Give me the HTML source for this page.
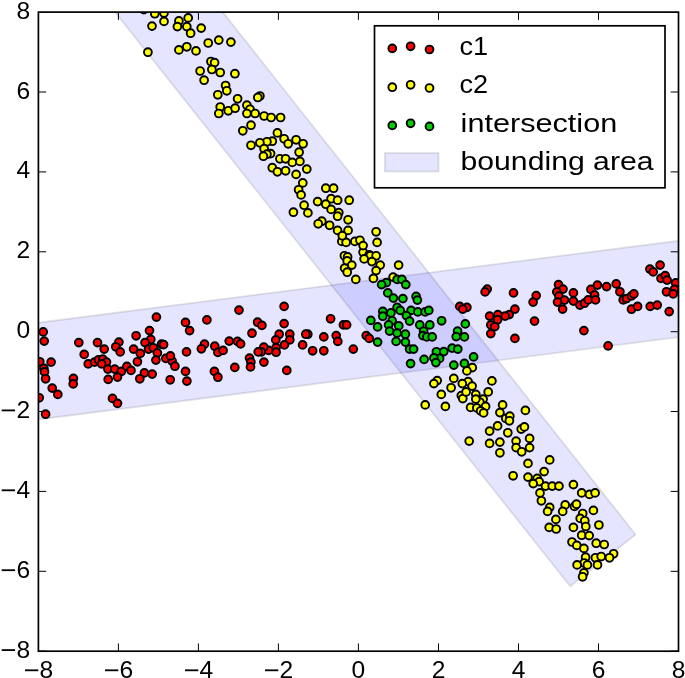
<!DOCTYPE html>
<html><head><meta charset="utf-8"><title>plot</title>
<style>
html,body{margin:0;padding:0;background:#fff;}
body{width:685px;height:678px;overflow:hidden;position:relative;font-family:"Liberation Sans",sans-serif;}
svg{position:absolute;left:0;top:0;display:block;filter:blur(0.55px);}
text{font-family:"Liberation Sans",sans-serif;fill:#000;}
.tk{font-size:24.6px;}
.lg{font-size:25.5px;}
</style></head><body>
<svg width="685" height="678" viewBox="0 0 685 678">
<defs><clipPath id="ax"><rect x="38.4" y="12.1" width="640.1" height="639.1"/></clipPath></defs>
<rect x="0" y="0" width="685" height="678" fill="#fff"/>
<g clip-path="url(#ax)">
<polygon points="-1.5,327.8 718.4,235.7 718.4,332.0 -1.5,424.6" fill="rgba(0,0,255,0.1)" stroke="rgba(0,0,0,0.11)" stroke-width="1.8"/>
<polygon points="69.9,-44.9 570.2,586.3 635.5,534.5 181.8,-39.7" fill="rgba(0,0,255,0.1)" stroke="rgba(0,0,0,0.11)" stroke-width="1.8"/>
<g stroke="#000" stroke-width="1">
<line x1="38.4" y1="651.2" x2="38.4" y2="643.4000000000001"/><line x1="38.4" y1="12.1" x2="38.4" y2="19.9"/><line x1="38.4" y1="651.2" x2="46.199999999999996" y2="651.2"/><line x1="678.5" y1="651.2" x2="670.7" y2="651.2"/>
<line x1="118.4" y1="651.2" x2="118.4" y2="643.4000000000001"/><line x1="118.4" y1="12.1" x2="118.4" y2="19.9"/><line x1="38.4" y1="571.3" x2="46.199999999999996" y2="571.3"/><line x1="678.5" y1="571.3" x2="670.7" y2="571.3"/>
<line x1="198.4" y1="651.2" x2="198.4" y2="643.4000000000001"/><line x1="198.4" y1="12.1" x2="198.4" y2="19.9"/><line x1="38.4" y1="491.4" x2="46.199999999999996" y2="491.4"/><line x1="678.5" y1="491.4" x2="670.7" y2="491.4"/>
<line x1="278.4" y1="651.2" x2="278.4" y2="643.4000000000001"/><line x1="278.4" y1="12.1" x2="278.4" y2="19.9"/><line x1="38.4" y1="411.5" x2="46.199999999999996" y2="411.5"/><line x1="678.5" y1="411.5" x2="670.7" y2="411.5"/>
<line x1="358.4" y1="651.2" x2="358.4" y2="643.4000000000001"/><line x1="358.4" y1="12.1" x2="358.4" y2="19.9"/><line x1="38.4" y1="331.7" x2="46.199999999999996" y2="331.7"/><line x1="678.5" y1="331.7" x2="670.7" y2="331.7"/>
<line x1="438.5" y1="651.2" x2="438.5" y2="643.4000000000001"/><line x1="438.5" y1="12.1" x2="438.5" y2="19.9"/><line x1="38.4" y1="251.8" x2="46.199999999999996" y2="251.8"/><line x1="678.5" y1="251.8" x2="670.7" y2="251.8"/>
<line x1="518.5" y1="651.2" x2="518.5" y2="643.4000000000001"/><line x1="518.5" y1="12.1" x2="518.5" y2="19.9"/><line x1="38.4" y1="171.9" x2="46.199999999999996" y2="171.9"/><line x1="678.5" y1="171.9" x2="670.7" y2="171.9"/>
<line x1="598.5" y1="651.2" x2="598.5" y2="643.4000000000001"/><line x1="598.5" y1="12.1" x2="598.5" y2="19.9"/><line x1="38.4" y1="92.0" x2="46.199999999999996" y2="92.0"/><line x1="678.5" y1="92.0" x2="670.7" y2="92.0"/>
<line x1="678.5" y1="651.2" x2="678.5" y2="643.4000000000001"/><line x1="678.5" y1="12.1" x2="678.5" y2="19.9"/><line x1="38.4" y1="12.1" x2="46.199999999999996" y2="12.1"/><line x1="678.5" y1="12.1" x2="670.7" y2="12.1"/>
</g>
<g fill="#ff0000" stroke="#000" stroke-width="1.9">
<circle cx="43.2" cy="331.9" r="3.9"/><circle cx="44.2" cy="341.1" r="3.9"/><circle cx="39.8" cy="361.8" r="3.9"/><circle cx="51.1" cy="362.1" r="3.9"/><circle cx="43.9" cy="368.4" r="3.9"/><circle cx="44.5" cy="371.9" r="3.9"/><circle cx="45.6" cy="378.8" r="3.9"/><circle cx="52.2" cy="388.1" r="3.9"/><circle cx="57.8" cy="394.4" r="3.9"/><circle cx="39.2" cy="397.8" r="3.9"/><circle cx="45.6" cy="414.2" r="3.9"/><circle cx="78.8" cy="342.6" r="3.9"/><circle cx="84.2" cy="354.4" r="3.9"/><circle cx="88.2" cy="363.9" r="3.9"/><circle cx="73.4" cy="378.4" r="3.9"/><circle cx="73.2" cy="383.9" r="3.9"/><circle cx="97.5" cy="342.6" r="3.9"/><circle cx="104.2" cy="349.1" r="3.9"/><circle cx="94.5" cy="362.1" r="3.9"/><circle cx="98.5" cy="359.8" r="3.9"/><circle cx="102.8" cy="359.1" r="3.9"/><circle cx="106.5" cy="362.1" r="3.9"/><circle cx="101.7" cy="363.9" r="3.9"/><circle cx="107.9" cy="369.1" r="3.9"/><circle cx="114.7" cy="369.1" r="3.9"/><circle cx="121.4" cy="371.4" r="3.9"/><circle cx="108.2" cy="379.4" r="3.9"/><circle cx="117.5" cy="377.1" r="3.9"/><circle cx="112.5" cy="398.4" r="3.9"/><circle cx="117.5" cy="403.4" r="3.9"/><circle cx="118.9" cy="342.1" r="3.9"/><circle cx="115.8" cy="346.8" r="3.9"/><circle cx="120.2" cy="351.9" r="3.9"/><circle cx="126.9" cy="366.4" r="3.9"/><circle cx="131.0" cy="370.4" r="3.9"/><circle cx="136.1" cy="335.8" r="3.9"/><circle cx="133.6" cy="349.1" r="3.9"/><circle cx="140.3" cy="353.4" r="3.9"/><circle cx="137.4" cy="361.8" r="3.9"/><circle cx="144.4" cy="372.9" r="3.9"/><circle cx="139.8" cy="378.8" r="3.9"/><circle cx="152.2" cy="374.1" r="3.9"/><circle cx="149.5" cy="330.6" r="3.9"/><circle cx="156.4" cy="317.1" r="3.9"/><circle cx="150.8" cy="339.4" r="3.9"/><circle cx="145.0" cy="342.6" r="3.9"/><circle cx="148.5" cy="349.1" r="3.9"/><circle cx="153.3" cy="347.8" r="3.9"/><circle cx="161.5" cy="344.1" r="3.9"/><circle cx="163.6" cy="344.6" r="3.9"/><circle cx="157.4" cy="352.9" r="3.9"/><circle cx="155.9" cy="360.1" r="3.9"/><circle cx="165.8" cy="358.4" r="3.9"/><circle cx="170.2" cy="379.8" r="3.9"/><circle cx="172.1" cy="361.1" r="3.9"/><circle cx="185.5" cy="322.4" r="3.9"/><circle cx="189.6" cy="330.6" r="3.9"/><circle cx="206.9" cy="319.9" r="3.9"/><circle cx="239.0" cy="310.1" r="3.9"/><circle cx="284.1" cy="306.4" r="3.9"/><circle cx="257.6" cy="322.2" r="3.9"/><circle cx="261.9" cy="325.4" r="3.9"/><circle cx="284.1" cy="323.6" r="3.9"/><circle cx="252.0" cy="333.2" r="3.9"/><circle cx="279.2" cy="334.2" r="3.9"/><circle cx="289.8" cy="334.2" r="3.9"/><circle cx="289.8" cy="339.9" r="3.9"/><circle cx="275.8" cy="339.9" r="3.9"/><circle cx="307.8" cy="334.2" r="3.9"/><circle cx="305.8" cy="334.2" r="3.9"/><circle cx="302.6" cy="344.9" r="3.9"/><circle cx="284.4" cy="344.9" r="3.9"/><circle cx="276.1" cy="347.6" r="3.9"/><circle cx="276.1" cy="352.2" r="3.9"/><circle cx="268.6" cy="350.4" r="3.9"/><circle cx="263.8" cy="347.1" r="3.9"/><circle cx="261.3" cy="351.9" r="3.9"/><circle cx="258.2" cy="351.9" r="3.9"/><circle cx="229.2" cy="341.1" r="3.9"/><circle cx="237.5" cy="341.4" r="3.9"/><circle cx="240.6" cy="343.9" r="3.9"/><circle cx="204.5" cy="344.1" r="3.9"/><circle cx="201.4" cy="348.8" r="3.9"/><circle cx="214.8" cy="346.2" r="3.9"/><circle cx="217.9" cy="352.4" r="3.9"/><circle cx="223.1" cy="350.4" r="3.9"/><circle cx="186.5" cy="351.9" r="3.9"/><circle cx="170.4" cy="355.9" r="3.9"/><circle cx="174.9" cy="366.2" r="3.9"/><circle cx="185.5" cy="371.4" r="3.9"/><circle cx="186.9" cy="381.1" r="3.9"/><circle cx="214.4" cy="371.4" r="3.9"/><circle cx="217.9" cy="377.2" r="3.9"/><circle cx="234.8" cy="367.4" r="3.9"/><circle cx="249.5" cy="358.1" r="3.9"/><circle cx="250.9" cy="362.1" r="3.9"/><circle cx="250.5" cy="366.9" r="3.9"/><circle cx="263.9" cy="362.1" r="3.9"/><circle cx="286.8" cy="370.4" r="3.9"/><circle cx="312.6" cy="350.8" r="3.9"/><circle cx="330.6" cy="318.8" r="3.9"/><circle cx="343.4" cy="324.9" r="3.9"/><circle cx="346.6" cy="324.9" r="3.9"/><circle cx="323.8" cy="336.9" r="3.9"/><circle cx="336.2" cy="335.6" r="3.9"/><circle cx="337.8" cy="341.4" r="3.9"/><circle cx="323.8" cy="350.8" r="3.9"/><circle cx="353.3" cy="349.1" r="3.9"/><circle cx="366.2" cy="335.6" r="3.9"/><circle cx="369.2" cy="338.4" r="3.9"/><circle cx="487.2" cy="289.1" r="3.9"/><circle cx="485.1" cy="291.9" r="3.9"/><circle cx="513.5" cy="292.9" r="3.9"/><circle cx="536.2" cy="295.6" r="3.9"/><circle cx="533.1" cy="302.1" r="3.9"/><circle cx="459.8" cy="306.4" r="3.9"/><circle cx="466.9" cy="307.4" r="3.9"/><circle cx="462.8" cy="309.1" r="3.9"/><circle cx="514.9" cy="309.1" r="3.9"/><circle cx="509.2" cy="314.6" r="3.9"/><circle cx="505.1" cy="316.1" r="3.9"/><circle cx="497.9" cy="314.6" r="3.9"/><circle cx="489.6" cy="316.1" r="3.9"/><circle cx="497.6" cy="319.8" r="3.9"/><circle cx="490.8" cy="324.9" r="3.9"/><circle cx="494.8" cy="326.6" r="3.9"/><circle cx="490.8" cy="333.6" r="3.9"/><circle cx="514.9" cy="338.4" r="3.9"/><circle cx="534.5" cy="321.1" r="3.9"/><circle cx="558.5" cy="284.6" r="3.9"/><circle cx="563.0" cy="289.1" r="3.9"/><circle cx="556.8" cy="291.9" r="3.9"/><circle cx="558.9" cy="296.1" r="3.9"/><circle cx="564.5" cy="300.1" r="3.9"/><circle cx="557.5" cy="302.1" r="3.9"/><circle cx="562.6" cy="309.1" r="3.9"/><circle cx="573.4" cy="292.9" r="3.9"/><circle cx="573.4" cy="301.1" r="3.9"/><circle cx="579.9" cy="305.1" r="3.9"/><circle cx="584.5" cy="303.2" r="3.9"/><circle cx="588.2" cy="299.9" r="3.9"/><circle cx="590.9" cy="289.4" r="3.9"/><circle cx="583.9" cy="330.6" r="3.9"/><circle cx="594.6" cy="294.9" r="3.9"/><circle cx="595.5" cy="299.9" r="3.9"/><circle cx="597.4" cy="285.1" r="3.9"/><circle cx="606.6" cy="286.6" r="3.9"/><circle cx="616.2" cy="283.9" r="3.9"/><circle cx="619.9" cy="291.8" r="3.9"/><circle cx="623.2" cy="299.9" r="3.9"/><circle cx="626.5" cy="298.6" r="3.9"/><circle cx="631.5" cy="295.9" r="3.9"/><circle cx="633.9" cy="293.9" r="3.9"/><circle cx="631.5" cy="309.2" r="3.9"/><circle cx="637.6" cy="306.4" r="3.9"/><circle cx="650.2" cy="306.4" r="3.9"/><circle cx="657.2" cy="305.1" r="3.9"/><circle cx="669.2" cy="311.6" r="3.9"/><circle cx="649.9" cy="269.1" r="3.9"/><circle cx="653.2" cy="271.9" r="3.9"/><circle cx="660.1" cy="265.1" r="3.9"/><circle cx="661.0" cy="278.4" r="3.9"/><circle cx="665.2" cy="275.6" r="3.9"/><circle cx="667.1" cy="280.1" r="3.9"/><circle cx="666.5" cy="291.8" r="3.9"/><circle cx="675.7" cy="282.9" r="3.9"/><circle cx="674.4" cy="289.4" r="3.9"/><circle cx="673.2" cy="293.9" r="3.9"/><circle cx="608.1" cy="345.9" r="3.9"/>
</g>
<g fill="#ffff00" stroke="#000" stroke-width="1.9">
<circle cx="341.8" cy="241.4" r="3.9"/><circle cx="346.1" cy="242.4" r="3.9"/><circle cx="354.8" cy="241.4" r="3.9"/><circle cx="359.9" cy="240.3" r="3.9"/><circle cx="377.1" cy="242.4" r="3.9"/><circle cx="363.1" cy="252.3" r="3.9"/><circle cx="369.2" cy="254.8" r="3.9"/><circle cx="370.3" cy="255.8" r="3.9"/><circle cx="376.1" cy="255.8" r="3.9"/><circle cx="344.4" cy="255.8" r="3.9"/><circle cx="347.6" cy="256.9" r="3.9"/><circle cx="364.1" cy="258.9" r="3.9"/><circle cx="371.9" cy="261.6" r="3.9"/><circle cx="347.2" cy="260.9" r="3.9"/><circle cx="351.8" cy="265.1" r="3.9"/><circle cx="344.6" cy="268.1" r="3.9"/><circle cx="347.2" cy="272.2" r="3.9"/><circle cx="380.2" cy="265.1" r="3.9"/><circle cx="376.1" cy="270.6" r="3.9"/><circle cx="398.6" cy="265.1" r="3.9"/><circle cx="355.8" cy="279.4" r="3.9"/><circle cx="373.4" cy="278.4" r="3.9"/><circle cx="393.1" cy="277.1" r="3.9"/><circle cx="437.2" cy="380.6" r="3.9"/><circle cx="472.3" cy="367.6" r="3.9"/><circle cx="466.9" cy="370.9" r="3.9"/><circle cx="453.8" cy="378.4" r="3.9"/><circle cx="491.9" cy="380.9" r="3.9"/><circle cx="468.1" cy="381.6" r="3.9"/><circle cx="143.8" cy="9.6" r="3.9"/><circle cx="154.8" cy="13.7" r="3.9"/><circle cx="164.0" cy="13.1" r="3.9"/><circle cx="188.2" cy="17.9" r="3.9"/><circle cx="164.0" cy="21.4" r="3.9"/><circle cx="152.0" cy="26.1" r="3.9"/><circle cx="178.9" cy="20.9" r="3.9"/><circle cx="177.4" cy="26.6" r="3.9"/><circle cx="186.8" cy="26.6" r="3.9"/><circle cx="190.6" cy="33.2" r="3.9"/><circle cx="201.2" cy="28.1" r="3.9"/><circle cx="147.9" cy="52.2" r="3.9"/><circle cx="178.9" cy="49.9" r="3.9"/><circle cx="186.8" cy="46.8" r="3.9"/><circle cx="196.0" cy="50.9" r="3.9"/><circle cx="208.2" cy="43.0" r="3.9"/><circle cx="218.8" cy="40.1" r="3.9"/><circle cx="230.9" cy="42.1" r="3.9"/><circle cx="210.9" cy="61.5" r="3.9"/><circle cx="214.6" cy="62.6" r="3.9"/><circle cx="200.1" cy="71.0" r="3.9"/><circle cx="211.9" cy="69.5" r="3.9"/><circle cx="220.2" cy="72.5" r="3.9"/><circle cx="234.9" cy="73.7" r="3.9"/><circle cx="204.1" cy="80.2" r="3.9"/><circle cx="225.6" cy="85.5" r="3.9"/><circle cx="226.8" cy="90.8" r="3.9"/><circle cx="217.8" cy="94.8" r="3.9"/><circle cx="237.6" cy="98.8" r="3.9"/><circle cx="220.2" cy="107.0" r="3.9"/><circle cx="228.3" cy="110.8" r="3.9"/><circle cx="235.1" cy="108.2" r="3.9"/><circle cx="218.8" cy="113.5" r="3.9"/><circle cx="242.8" cy="130.8" r="3.9"/><circle cx="259.9" cy="96.0" r="3.9"/><circle cx="257.8" cy="97.5" r="3.9"/><circle cx="246.9" cy="105.2" r="3.9"/><circle cx="250.0" cy="109.3" r="3.9"/><circle cx="246.9" cy="113.5" r="3.9"/><circle cx="255.1" cy="113.5" r="3.9"/><circle cx="264.1" cy="116.0" r="3.9"/><circle cx="271.1" cy="117.5" r="3.9"/><circle cx="280.6" cy="117.5" r="3.9"/><circle cx="251.0" cy="125.2" r="3.9"/><circle cx="277.4" cy="132.9" r="3.9"/><circle cx="284.1" cy="138.8" r="3.9"/><circle cx="288.2" cy="143.8" r="3.9"/><circle cx="296.1" cy="139.8" r="3.9"/><circle cx="303.1" cy="143.8" r="3.9"/><circle cx="272.3" cy="141.2" r="3.9"/><circle cx="266.9" cy="141.8" r="3.9"/><circle cx="259.9" cy="142.8" r="3.9"/><circle cx="251.0" cy="145.3" r="3.9"/><circle cx="264.1" cy="148.7" r="3.9"/><circle cx="270.6" cy="153.6" r="3.9"/><circle cx="266.9" cy="154.2" r="3.9"/><circle cx="263.4" cy="156.2" r="3.9"/><circle cx="299.1" cy="152.2" r="3.9"/><circle cx="279.9" cy="158.8" r="3.9"/><circle cx="285.6" cy="158.8" r="3.9"/><circle cx="292.3" cy="162.4" r="3.9"/><circle cx="299.9" cy="161.4" r="3.9"/><circle cx="272.3" cy="167.7" r="3.9"/><circle cx="277.4" cy="171.8" r="3.9"/><circle cx="285.6" cy="170.8" r="3.9"/><circle cx="306.8" cy="169.1" r="3.9"/><circle cx="296.1" cy="174.4" r="3.9"/><circle cx="302.8" cy="182.9" r="3.9"/><circle cx="298.6" cy="189.8" r="3.9"/><circle cx="301.1" cy="194.9" r="3.9"/><circle cx="325.8" cy="188.2" r="3.9"/><circle cx="333.6" cy="188.2" r="3.9"/><circle cx="317.6" cy="201.6" r="3.9"/><circle cx="331.1" cy="198.7" r="3.9"/><circle cx="337.6" cy="200.2" r="3.9"/><circle cx="304.1" cy="205.2" r="3.9"/><circle cx="293.4" cy="212.2" r="3.9"/><circle cx="307.9" cy="212.9" r="3.9"/><circle cx="349.2" cy="200.2" r="3.9"/><circle cx="325.8" cy="204.2" r="3.9"/><circle cx="331.1" cy="209.4" r="3.9"/><circle cx="338.8" cy="212.6" r="3.9"/><circle cx="337.6" cy="216.2" r="3.9"/><circle cx="348.1" cy="219.8" r="3.9"/><circle cx="321.8" cy="221.2" r="3.9"/><circle cx="318.2" cy="223.8" r="3.9"/><circle cx="329.6" cy="225.3" r="3.9"/><circle cx="337.6" cy="230.4" r="3.9"/><circle cx="348.1" cy="230.4" r="3.9"/><circle cx="342.3" cy="235.7" r="3.9"/><circle cx="376.1" cy="231.8" r="3.9"/><circle cx="363.1" cy="245.6" r="3.9"/><circle cx="433.9" cy="383.6" r="3.9"/><circle cx="462.3" cy="383.6" r="3.9"/><circle cx="472.1" cy="386.1" r="3.9"/><circle cx="451.1" cy="387.8" r="3.9"/><circle cx="441.3" cy="394.4" r="3.9"/><circle cx="488.2" cy="391.9" r="3.9"/><circle cx="475.8" cy="394.4" r="3.9"/><circle cx="461.3" cy="395.6" r="3.9"/><circle cx="462.8" cy="398.6" r="3.9"/><circle cx="466.1" cy="391.9" r="3.9"/><circle cx="483.1" cy="399.1" r="3.9"/><circle cx="479.9" cy="402.1" r="3.9"/><circle cx="475.8" cy="399.1" r="3.9"/><circle cx="485.6" cy="406.4" r="3.9"/><circle cx="470.6" cy="407.4" r="3.9"/><circle cx="476.8" cy="407.9" r="3.9"/><circle cx="480.6" cy="410.9" r="3.9"/><circle cx="483.6" cy="412.9" r="3.9"/><circle cx="425.2" cy="404.9" r="3.9"/><circle cx="445.4" cy="406.4" r="3.9"/><circle cx="502.6" cy="404.9" r="3.9"/><circle cx="499.9" cy="412.6" r="3.9"/><circle cx="525.4" cy="410.4" r="3.9"/><circle cx="505.8" cy="418.4" r="3.9"/><circle cx="509.8" cy="416.2" r="3.9"/><circle cx="509.4" cy="420.8" r="3.9"/><circle cx="497.6" cy="425.9" r="3.9"/><circle cx="489.6" cy="431.1" r="3.9"/><circle cx="507.8" cy="432.8" r="3.9"/><circle cx="521.2" cy="429.1" r="3.9"/><circle cx="524.4" cy="426.9" r="3.9"/><circle cx="469.2" cy="441.1" r="3.9"/><circle cx="489.6" cy="443.4" r="3.9"/><circle cx="499.9" cy="442.1" r="3.9"/><circle cx="516.1" cy="441.1" r="3.9"/><circle cx="529.6" cy="438.4" r="3.9"/><circle cx="516.1" cy="447.6" r="3.9"/><circle cx="521.7" cy="451.8" r="3.9"/><circle cx="529.6" cy="447.6" r="3.9"/><circle cx="499.9" cy="452.8" r="3.9"/><circle cx="528.0" cy="463.4" r="3.9"/><circle cx="513.1" cy="475.8" r="3.9"/><circle cx="528.0" cy="477.1" r="3.9"/><circle cx="537.2" cy="478.4" r="3.9"/><circle cx="549.7" cy="459.9" r="3.9"/><circle cx="544.1" cy="471.6" r="3.9"/><circle cx="539.2" cy="481.6" r="3.9"/><circle cx="533.2" cy="483.6" r="3.9"/><circle cx="545.5" cy="486.1" r="3.9"/><circle cx="552.2" cy="486.1" r="3.9"/><circle cx="559.0" cy="486.1" r="3.9"/><circle cx="573.4" cy="484.6" r="3.9"/><circle cx="540.0" cy="492.9" r="3.9"/><circle cx="541.4" cy="500.8" r="3.9"/><circle cx="581.7" cy="492.9" r="3.9"/><circle cx="589.5" cy="494.4" r="3.9"/><circle cx="595.1" cy="492.9" r="3.9"/><circle cx="549.7" cy="507.4" r="3.9"/><circle cx="547.6" cy="511.4" r="3.9"/><circle cx="565.2" cy="504.9" r="3.9"/><circle cx="562.7" cy="511.4" r="3.9"/><circle cx="574.5" cy="506.4" r="3.9"/><circle cx="576.5" cy="504.2" r="3.9"/><circle cx="593.4" cy="510.4" r="3.9"/><circle cx="555.9" cy="519.4" r="3.9"/><circle cx="582.7" cy="513.5" r="3.9"/><circle cx="580.2" cy="518.4" r="3.9"/><circle cx="584.8" cy="520.8" r="3.9"/><circle cx="598.9" cy="525.0" r="3.9"/><circle cx="549.2" cy="527.4" r="3.9"/><circle cx="556.2" cy="529.0" r="3.9"/><circle cx="573.4" cy="527.4" r="3.9"/><circle cx="585.8" cy="526.5" r="3.9"/><circle cx="581.7" cy="535.2" r="3.9"/><circle cx="589.2" cy="535.6" r="3.9"/><circle cx="572.0" cy="542.0" r="3.9"/><circle cx="576.8" cy="545.4" r="3.9"/><circle cx="583.9" cy="548.4" r="3.9"/><circle cx="596.2" cy="543.2" r="3.9"/><circle cx="604.2" cy="544.5" r="3.9"/><circle cx="613.6" cy="553.8" r="3.9"/><circle cx="585.6" cy="557.2" r="3.9"/><circle cx="584.2" cy="563.0" r="3.9"/><circle cx="577.1" cy="564.9" r="3.9"/><circle cx="587.4" cy="564.9" r="3.9"/><circle cx="595.4" cy="557.8" r="3.9"/><circle cx="601.2" cy="556.5" r="3.9"/><circle cx="609.5" cy="557.8" r="3.9"/><circle cx="597.5" cy="564.9" r="3.9"/><circle cx="583.9" cy="572.9" r="3.9"/><circle cx="582.6" cy="576.8" r="3.9"/>
</g>
<g fill="#00d000" stroke="#000" stroke-width="1.9">
<circle cx="397.1" cy="279.4" r="3.9"/><circle cx="401.9" cy="279.4" r="3.9"/><circle cx="405.8" cy="284.6" r="3.9"/><circle cx="386.4" cy="282.6" r="3.9"/><circle cx="381.6" cy="284.6" r="3.9"/><circle cx="387.8" cy="292.9" r="3.9"/><circle cx="393.4" cy="298.1" r="3.9"/><circle cx="402.9" cy="298.6" r="3.9"/><circle cx="416.1" cy="296.4" r="3.9"/><circle cx="417.4" cy="300.1" r="3.9"/><circle cx="397.1" cy="307.4" r="3.9"/><circle cx="400.2" cy="310.4" r="3.9"/><circle cx="382.8" cy="311.4" r="3.9"/><circle cx="382.8" cy="316.2" r="3.9"/><circle cx="390.9" cy="312.9" r="3.9"/><circle cx="392.1" cy="320.8" r="3.9"/><circle cx="388.6" cy="324.9" r="3.9"/><circle cx="398.8" cy="325.9" r="3.9"/><circle cx="370.8" cy="320.4" r="3.9"/><circle cx="377.6" cy="326.9" r="3.9"/><circle cx="389.6" cy="331.1" r="3.9"/><circle cx="397.1" cy="333.1" r="3.9"/><circle cx="405.4" cy="334.2" r="3.9"/><circle cx="377.6" cy="342.1" r="3.9"/><circle cx="396.1" cy="341.4" r="3.9"/><circle cx="405.4" cy="342.1" r="3.9"/><circle cx="409.6" cy="349.1" r="3.9"/><circle cx="413.6" cy="349.1" r="3.9"/><circle cx="410.6" cy="363.6" r="3.9"/><circle cx="424.1" cy="359.4" r="3.9"/><circle cx="411.1" cy="310.4" r="3.9"/><circle cx="417.8" cy="311.9" r="3.9"/><circle cx="425.1" cy="311.9" r="3.9"/><circle cx="428.8" cy="310.4" r="3.9"/><circle cx="406.4" cy="315.6" r="3.9"/><circle cx="409.6" cy="321.1" r="3.9"/><circle cx="419.8" cy="324.9" r="3.9"/><circle cx="429.8" cy="324.9" r="3.9"/><circle cx="441.6" cy="320.8" r="3.9"/><circle cx="423.6" cy="331.1" r="3.9"/><circle cx="422.9" cy="335.6" r="3.9"/><circle cx="426.8" cy="336.9" r="3.9"/><circle cx="432.2" cy="336.9" r="3.9"/><circle cx="436.4" cy="351.8" r="3.9"/><circle cx="443.8" cy="351.6" r="3.9"/><circle cx="439.6" cy="358.4" r="3.9"/><circle cx="433.9" cy="357.9" r="3.9"/><circle cx="435.9" cy="362.6" r="3.9"/><circle cx="452.1" cy="348.1" r="3.9"/><circle cx="453.8" cy="365.1" r="3.9"/><circle cx="465.3" cy="323.9" r="3.9"/><circle cx="457.6" cy="331.1" r="3.9"/><circle cx="456.2" cy="336.6" r="3.9"/><circle cx="464.4" cy="336.9" r="3.9"/><circle cx="457.8" cy="349.1" r="3.9"/><circle cx="473.6" cy="356.9" r="3.9"/><circle cx="464.4" cy="363.4" r="3.9"/>
</g>
</g>
<rect x="38.4" y="12.1" width="640.1" height="639.1" fill="none" stroke="#000" stroke-width="1.7"/>
<rect x="25.0" y="669.4" width="13.3" height="1.8" fill="#000"/><text class="tk" x="39.4" y="677.9">8</text><rect x="1.7" y="649.2" width="13.3" height="1.8" fill="#000"/><text class="tk" x="30.3" y="657.7" text-anchor="end">8</text>
<rect x="105.0" y="669.4" width="13.3" height="1.8" fill="#000"/><text class="tk" x="119.4" y="677.9">6</text><rect x="1.7" y="569.3" width="13.3" height="1.8" fill="#000"/><text class="tk" x="30.3" y="577.8" text-anchor="end">6</text>
<rect x="185.0" y="669.4" width="13.3" height="1.8" fill="#000"/><text class="tk" x="199.4" y="677.9">4</text><rect x="1.7" y="489.4" width="13.3" height="1.8" fill="#000"/><text class="tk" x="30.3" y="497.9" text-anchor="end">4</text>
<rect x="265.0" y="669.4" width="13.3" height="1.8" fill="#000"/><text class="tk" x="279.4" y="677.9">2</text><rect x="1.7" y="409.5" width="13.3" height="1.8" fill="#000"/><text class="tk" x="30.3" y="418.0" text-anchor="end">2</text>
<text class="tk" x="358.4" y="677.9" text-anchor="middle">0</text><text class="tk" x="30.3" y="338.2" text-anchor="end">0</text>
<text class="tk" x="438.5" y="677.9" text-anchor="middle">2</text><text class="tk" x="30.3" y="258.3" text-anchor="end">2</text>
<text class="tk" x="518.5" y="677.9" text-anchor="middle">4</text><text class="tk" x="30.3" y="178.4" text-anchor="end">4</text>
<text class="tk" x="598.5" y="677.9" text-anchor="middle">6</text><text class="tk" x="30.3" y="98.5" text-anchor="end">6</text>
<text class="tk" x="678.5" y="677.9" text-anchor="middle">8</text><text class="tk" x="30.3" y="18.6" text-anchor="end">8</text>
<rect x="374.5" y="25.8" width="290.5" height="162.0" fill="#fff" stroke="#000" stroke-width="1.7"/>
<g fill="#ff0000" stroke="#000" stroke-width="1.9"><circle cx="392.3" cy="48.4" r="3.9"/><circle cx="410.6" cy="46.3" r="3.9"/><circle cx="429.5" cy="49.5" r="3.9"/></g>
<g fill="#ffff00" stroke="#000" stroke-width="1.9"><circle cx="392.3" cy="87.2" r="3.9"/><circle cx="410.6" cy="84.8" r="3.9"/><circle cx="429.5" cy="88.0" r="3.9"/></g>
<g fill="#00d000" stroke="#000" stroke-width="1.9"><circle cx="392.3" cy="125.4" r="3.9"/><circle cx="410.6" cy="123.3" r="3.9"/><circle cx="429.5" cy="126.4" r="3.9"/></g>
<rect x="384.9" y="153" width="53.6" height="18.5" fill="rgba(0,0,255,0.1)" stroke="rgba(0,0,0,0.11)" stroke-width="1.8"/>
<text class="lg" x="459.5" y="55.1" textLength="28.6" lengthAdjust="spacingAndGlyphs">c1</text>
<text class="lg" x="459.5" y="93.0" textLength="28.6" lengthAdjust="spacingAndGlyphs">c2</text>
<text class="lg" x="460.6" y="132.2" textLength="156.6" lengthAdjust="spacingAndGlyphs">intersection</text>
<text class="lg" x="460.5" y="169.8" textLength="193.0" lengthAdjust="spacingAndGlyphs">bounding area</text>
</svg>
</body></html>
